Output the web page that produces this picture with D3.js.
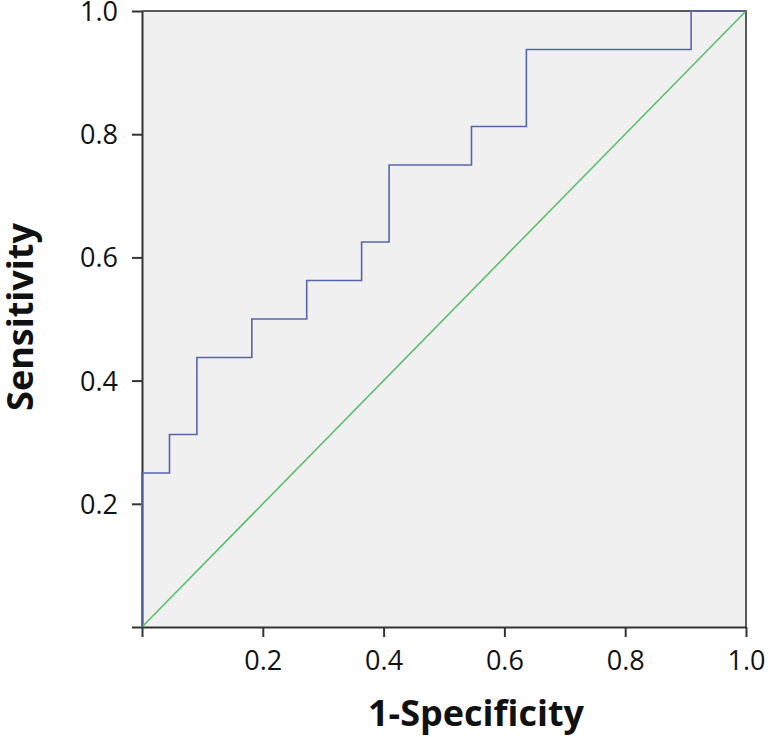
<!DOCTYPE html>
<html><head><meta charset="utf-8">
<script src="https://cdn.jsdelivr.net/npm/d3@7"></script>
<style>body{margin:0;background:#fff}svg{display:block}</style>
</head><body><svg id="c" width="768" height="737"></svg>
<script>
const fpr = [0, 0, 0.0455, 0.0455, 0.0909, 0.0909, 0.1818, 0.1818, 0.2727, 0.2727, 0.3636, 0.3636, 0.4091, 0.4091, 0.5455, 0.5455, 0.6364, 0.6364, 0.9091, 0.9091, 1];
const tpr = [0, 0.25, 0.25, 0.3125, 0.3125, 0.4375, 0.4375, 0.5, 0.5, 0.5625, 0.5625, 0.625, 0.625, 0.75, 0.75, 0.8125, 0.8125, 0.9375, 0.9375, 1, 1];
const refX = [0, 1];
const refY = [0, 1];
const xTicks = [0.2, 0.4, 0.6, 0.8, 1.0];
const yTicks = [0.2, 0.4, 0.6, 0.8, 1.0];

const svg = d3.select("#c");
const L = 142, R = 746, T = 11, B = 627;
const x = d3.scaleLinear().domain([0, 1]).range([L, R]);
const y = d3.scaleLinear().domain([0, 1]).range([B, T]);
const font = "'Open Sans', sans-serif";

svg.append("rect").attr("x", L).attr("y", T).attr("width", R - L).attr("height", B - T).attr("fill", "#f0f0f0");

// frame top/right
svg.append("path").attr("d", `M${L},${T}H${R}V${B}`).attr("fill", "none").attr("stroke", "#5a5a5a").attr("stroke-width", 2);

const xAxis = svg.append("g").attr("transform", `translate(0,${B})`)
  .call(d3.axisBottom(x).tickValues([0].concat(xTicks)).tickSize(10).tickSizeOuter(0).tickFormat((d) => d === 0 ? "" : d3.format(".1f")(d)));
const yAxis = svg.append("g").attr("transform", `translate(${L},0)`)
  .call(d3.axisLeft(y).tickValues([0].concat(yTicks)).tickSize(10).tickSizeOuter(0).tickFormat((d) => d === 0 ? "" : d3.format(".1f")(d)));
[xAxis, yAxis].forEach(g => {
  g.select(".domain").attr("stroke", "#333").attr("stroke-width", 2);
  g.selectAll(".tick line").attr("stroke", "#333").attr("stroke-width", 2);
  g.selectAll(".tick text").attr("font-family", font).attr("font-size", 27).attr("fill", "#111");
});
xAxis.selectAll(".tick text").attr("dy", "0").attr("y", 43);
yAxis.selectAll(".tick text").attr("x", -24).attr("dy", "0.35em");

const line = d3.line().x(d => x(d[0])).y(d => y(d[1]));
svg.append("path").datum(refX.map((v, i) => [v, refY[i]])).attr("d", line)
  .attr("fill", "none").attr("stroke", "#5cbf6a").attr("stroke-width", 1.6);
svg.append("path").datum(fpr.map((v, i) => [v, tpr[i]])).attr("d", line)
  .attr("fill", "none").attr("stroke", "#5565ad").attr("stroke-width", 1.6);

svg.append("text").attr("x", 476).attr("y", 726).attr("text-anchor", "middle")
  .attr("font-family", font).attr("font-weight", "bold").attr("font-size", 36).attr("fill", "#111").text("1-Specificity");
svg.append("text").attr("transform", "translate(33,317) rotate(-90)").attr("text-anchor", "middle")
  .attr("font-family", font).attr("font-weight", "bold").attr("font-size", 36).attr("fill", "#111").text("Sensitivity");
</script></body></html>
